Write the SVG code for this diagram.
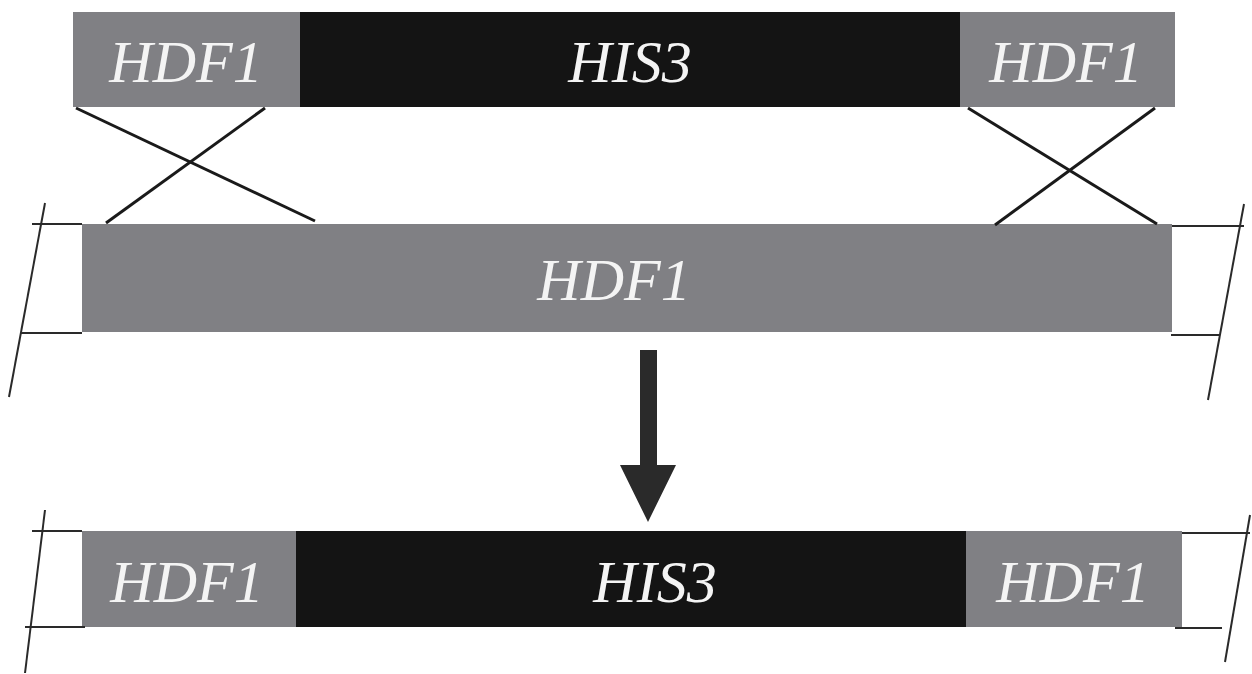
<svg xmlns="http://www.w3.org/2000/svg" width="1252" height="674" viewBox="0 0 1252 674">
  <style>
    .flank { fill: #808084; }
    .marker { fill: #141414; }
    .lbl { font-family: "Liberation Serif", "Times New Roman", serif; font-style: italic; font-size: 60px; fill: #f4f4f4; text-anchor: middle; }
    .ln { stroke: #1a1a1a; stroke-width: 3; fill: none; }
    .brk { stroke: #2a2a2a; stroke-width: 2; fill: none; }
  </style>
  <rect width="1252" height="674" fill="#ffffff"/>

  <!-- disruption cassette -->
  <g id="cassette">
    <rect class="flank" x="73" y="12" width="227" height="95"/>
    <rect class="marker" x="300" y="12" width="660" height="95"/>
    <rect class="flank" x="960" y="12" width="215" height="95"/>
    <text class="lbl" x="186" y="82">HDF1</text>
    <text class="lbl" x="630" y="82">HIS3</text>
    <text class="lbl" x="1066" y="82">HDF1</text>
  </g>

  <!-- chromosomal locus -->
  <g id="locus">
    <rect class="flank" x="82" y="224" width="1090" height="108"/>
    <text class="lbl" x="614" y="300">HDF1</text>
  </g>

  <!-- disrupted locus -->
  <g id="disrupted">
    <rect class="flank" x="82" y="531" width="214" height="96"/>
    <rect class="marker" x="296" y="531" width="670" height="96"/>
    <rect class="flank" x="966" y="531" width="216" height="96"/>
    <text class="lbl" x="187" y="602">HDF1</text>
    <text class="lbl" x="655" y="602">HIS3</text>
    <text class="lbl" x="1073" y="602">HDF1</text>
  </g>

  <!-- crossovers, chromosome breaks, arrow -->
  <g id="connectors">
    <line class="ln" x1="76" y1="108" x2="315" y2="221"/>
    <line class="ln" x1="265" y1="108" x2="106" y2="223"/>
    <line class="ln" x1="968" y1="108" x2="1157" y2="224"/>
    <line class="ln" x1="1155" y1="108" x2="995" y2="225"/>

    <line class="brk" x1="32" y1="224" x2="82" y2="224"/>
    <line class="brk" x1="21" y1="333" x2="82" y2="333"/>
    <line class="brk" x1="45" y1="203" x2="9" y2="397"/>
    <line class="brk" x1="1172" y1="226" x2="1244" y2="226"/>
    <line class="brk" x1="1171" y1="335" x2="1220" y2="335"/>
    <line class="brk" x1="1244" y1="204" x2="1208" y2="400"/>

    <line class="brk" x1="32" y1="531" x2="82" y2="531"/>
    <line class="brk" x1="25" y1="627" x2="85" y2="627"/>
    <line class="brk" x1="45" y1="510" x2="25" y2="673"/>
    <line class="brk" x1="1182" y1="533" x2="1250" y2="533"/>
    <line class="brk" x1="1175" y1="628" x2="1222" y2="628"/>
    <line class="brk" x1="1250" y1="515" x2="1225" y2="662"/>

    <polygon fill="#2a2a2a" points="640,350 657,350 657,465 676,465 648,522 620,465 640,465"/>
  </g>
</svg>
